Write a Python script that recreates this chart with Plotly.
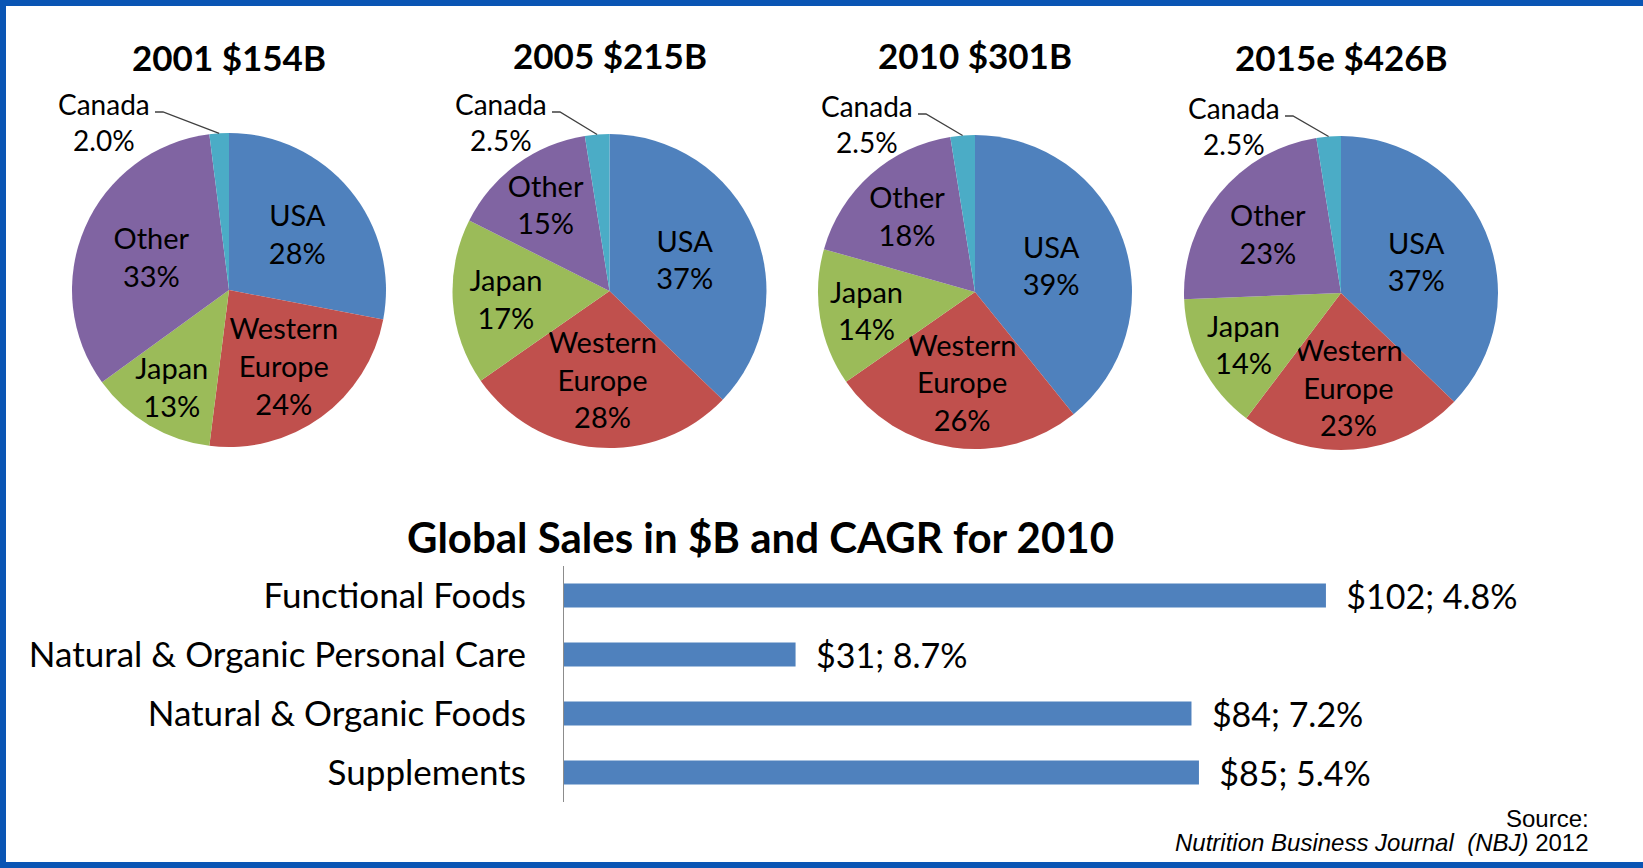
import math
import plotly.graph_objects as go

W, H = 1643, 868

# ---------------- data ----------------
regions = ["USA", "Western Europe", "Japan", "Other", "Canada"]
region_colors = ["#4F81BD", "#C0504D", "#9BBB59", "#8064A2", "#4BACC6"]

pie_titles = ["2001 $154B", "2005 $215B", "2010 $301B", "2015e $426B"]
share_2001 = [28, 24, 13, 33, 2.0]
share_2005 = [37, 28, 17, 15, 2.5]
share_2010 = [39, 26, 14, 18, 2.5]
share_2015e = [37, 23, 14, 23, 2.5]
pie_shares = [share_2001, share_2005, share_2010, share_2015e]

bar_title = "Global Sales in $B and CAGR for 2010"
categories = ["Functional Foods", "Natural & Organic Personal Care",
              "Natural & Organic Foods", "Supplements"]
sales_bn = [102, 31, 84, 85]
cagr_pct = [4.8, 8.7, 7.2, 5.4]

source_line1 = "Source:"
source_line2 = "<i>Nutrition Business Journal\u00a0\u00a0(NBJ)</i> 2012"

# ---------------- layout helpers (pixel geometry) ----------------
pie_centers = [(229, 290), (609.5, 291), (975, 292), (1341, 293)]
pie_r = 157
title_y = [57, 55, 55, 57]
canada_label_pos = [(104, 122), (501, 122), (867, 124), (1234, 126)]

FONT = "Lato, Carlito, Calibri, sans-serif"


def px(x):
    return x / W


def py(y):
    return 1 - y / H


fig = go.Figure()
annotations = []
shapes = []

for i, shares in enumerate(pie_shares):
    cx, cy = pie_centers[i]
    texts = []
    for name, v in zip(regions, shares):
        texts.append(name.replace(" ", "<br>") + "<br>" + f"{v:.0f}%")
    fig.add_trace(go.Pie(
        labels=regions,
        values=shares,
        text=texts,
        textinfo="text",
        textposition=["inside", "inside", "inside", "inside", "none"],
        insidetextorientation="horizontal",
        insidetextfont=dict(family=FONT, size=29, color="#000000"),
        marker=dict(colors=region_colors, line=dict(width=0)),
        sort=False,
        direction="clockwise",
        rotation=0,
        showlegend=False,
        hoverinfo="label+percent",
        domain=dict(x=[px(cx - pie_r), px(cx + pie_r)],
                    y=[py(cy + pie_r), py(cy - pie_r)]),
    ))
    # title
    annotations.append(dict(
        x=px(cx), y=py(title_y[i]), xref="paper", yref="paper",
        text=f"<b>{pie_titles[i]}</b>", showarrow=False,
        font=dict(family=FONT, size=35, color="#000000"),
        xanchor="center", yanchor="middle"))
    # Canada outside label with leader line
    total = sum(shares)
    can = shares[-1]
    theta = math.radians(-(can / 2) / total * 360)
    ex = cx + pie_r * math.sin(theta)
    ey = cy - pie_r * math.cos(theta)
    lx, ly = canada_label_pos[i]
    annotations.append(dict(
        x=px(lx), y=py(ly), xref="paper", yref="paper",
        text=f"Canada<br>{can:.1f}%", showarrow=False, align="center",
        font=dict(family=FONT, size=28, color="#000000"),
        xanchor="center", yanchor="middle"))
    tx = lx + 51
    tyy = ly - 10
    shapes.append(dict(
        type="path", xref="paper", yref="paper",
        path=f"M {px(tx)},{py(tyy)} L {px(tx + 8)},{py(tyy)} L {px(ex)},{py(ey)}",
        line=dict(color="#404040", width=1.3)))

# ---------------- bar chart ----------------
axis_x0 = 564
px_per_unit = 7.47
bar_right = 1610
fig.add_trace(go.Bar(
    y=categories, x=sales_bn, orientation="h",
    marker=dict(color="#4F81BD", line=dict(width=0)),
    width=0.41,
    text=[f"\u00a0\u00a0${s}; {c}%" for s, c in zip(sales_bn, cagr_pct)],
    textposition="outside",
    textfont=dict(family=FONT, size=34, color="#000000"),
    cliponaxis=False,
    showlegend=False,
    xaxis="x", yaxis="y",
))

fig.update_layout(
    margin=dict(l=0, r=0, t=0, b=0),
    paper_bgcolor="white", plot_bgcolor="white",
    xaxis=dict(domain=[px(axis_x0), px(bar_right)],
               range=[0, (bar_right - axis_x0) / px_per_unit],
               visible=False, fixedrange=True),
    yaxis=dict(domain=[py(802), py(566)],
               categoryorder="array", categoryarray=categories,
               autorange="reversed",
               showline=True, linecolor="#8C8C8C", linewidth=1,
               showgrid=False, zeroline=False, ticks="",
               ticklabelstandoff=30,
               tickfont=dict(family=FONT, size=35, color="#000000")),
    uniformtext=dict(minsize=29, mode="show"),
)

annotations.append(dict(
    x=px(760), y=py(537), xref="paper", yref="paper",
    text=f"<b>{bar_title}</b>", showarrow=False,
    font=dict(family=FONT, size=42, color="#000000"),
    xanchor="center", yanchor="middle"))

src_font = dict(family="Liberation Sans, Arial, sans-serif", size=24, color="#000000")
annotations.append(dict(
    x=px(1591), y=py(818), xref="paper", yref="paper",
    text=source_line1, showarrow=False, align="right", font=src_font,
    xanchor="right", yanchor="middle"))
annotations.append(dict(
    x=px(1591), y=py(842), xref="paper", yref="paper",
    text=source_line2, showarrow=False, align="right", font=src_font,
    xanchor="right", yanchor="middle"))

# frame (blue border on top, left, bottom)
border = "#0A55B4"
shapes.append(dict(type="rect", xref="paper", yref="paper",
                   x0=0, x1=1, y0=py(6), y1=1, fillcolor=border, line=dict(width=0)))
shapes.append(dict(type="rect", xref="paper", yref="paper",
                   x0=0, x1=px(6), y0=0, y1=1, fillcolor=border, line=dict(width=0)))
shapes.append(dict(type="rect", xref="paper", yref="paper",
                   x0=0, x1=1, y0=0, y1=py(862), fillcolor=border, line=dict(width=0)))

fig.update_layout(annotations=annotations, shapes=shapes)

# The page starts small enough to never overflow the window (body margin 8px),
# then the margin is removed and the figure is resized to the full window.
post = (
    "document.documentElement.style.overflow='hidden';"
    "document.body.style.overflow='hidden';"
    "document.body.style.margin='0px';"
    "var gd=document.getElementById('{plot_id}');"
    "gd.style.width='%dpx';gd.style.height='%dpx';"
    "Plotly.relayout(gd,{width:%d,height:%d});"
    "window.scrollTo(0,0);" % (W, H, W, H)
)
fig.write_html("out.html", config={"displayModeBar": False},
               default_width="%dpx" % (W - 16), default_height="%dpx" % (H - 16),
               post_script=post)
